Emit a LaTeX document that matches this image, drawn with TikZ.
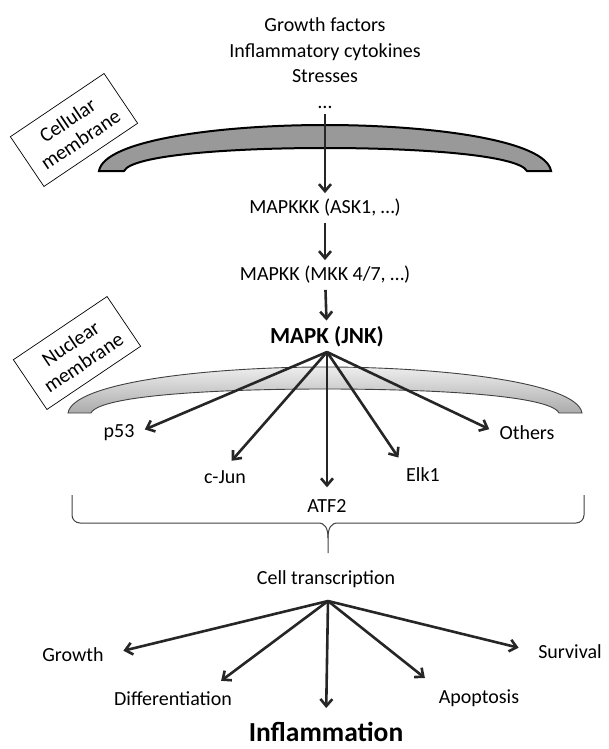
\documentclass[tikz,border=0pt]{standalone}
\usepackage{fontspec}
\setmainfont{Carlito}
\usetikzlibrary{arrows.meta,positioning,calc}
\tikzset{
  txt/.style={
    font = \fontsize{20}{25.5}\selectfont,
    inner sep = 2pt,
    align = center
  },
  bigtxt/.style={
    font = \fontsize{23}{28}\selectfont\bfseries,
    inner sep = 2pt
  },
  hugetxt/.style={
    font = \fontsize{27.5}{32}\selectfont\bfseries,
    inner sep = 1pt
  },
  membox/.style={
    draw,
    line width = 0.7pt,
    rotate = 34,
    minimum width = 113pt,
    minimum height = 60pt,
    inner sep = 0pt,
    align = center,
    font = \fontsize{20.5}{23}\selectfont
  },
  arr/.style={
    line width = 2.6pt,
    draw = black!85,
    -{Straight Barb[length=7pt,width=12pt]}
  },
  cellmem/.style={
    draw,
    line width = 2pt,
    fill = black!40
  },
  nucmem/.style={
    draw = black!75,
    line width = 0.9pt,
    top color = black!7,
    bottom color = black!33
  },
  brace/.style={
    draw = black!75,
    line width = 1pt
  }
}

\begin{document}
\begin{tikzpicture}[x=1pt,y=-1pt]
    \useasboundingbox (0,0) rectangle (608,749);
    % membranes
    \path[cellmem] (99,171) .. controls (104,140) and (220,125) .. (325,125)
        .. controls (430,125) and (546,140) .. (551,171) -- (527,171)
        .. controls (518,155) and (420,148) .. (325,148)
        .. controls (230,148) and (132,155) .. (124,171) -- cycle;
    \path[nucmem] (68,413) .. controls (73,382) and (210,367) .. (325,367)
        .. controls (440,367) and (577,382) .. (582,413) -- (559,413)
        .. controls (550,395) and (430,389) .. (325,389)
        .. controls (220,389) and (100,395) .. (91,413) -- cycle;
    \node[membox] (cellbox) at (74,130) {Cellular\\membrane};
    \node[membox] (nucbox) at (77,353) {Nuclear\\membrane};
    % cascade
    \node[txt] (stimuli) at (325,63) {Growth factors\\Inflammatory cytokines\\Stresses\\…};
    \node[txt] (mapkkk) at (325,208) {MAPKKK (ASK1, …)};
    \node[txt] (mapkk) at (325,275) {MAPKK (MKK 4/7, …)};
    \node[bigtxt] (jnk) at (327,337) {MAPK (JNK)};
    \draw[arr, shorten <=4pt, shorten >=4pt] (stimuli) -- (mapkkk);
    \draw[arr, shorten <=4pt, shorten >=4pt] (mapkkk) -- (mapkk);
    \draw[arr, shorten <=4pt, shorten >=4pt] (mapkk) -- (jnk);
    % targets of JNK
    \coordinate (fan) at (327,352);
    \node[txt] (p53) at (119,433) {p53};
    \node[txt] (cjun) at (225,477) {c-Jun};
    \node[txt] (atf2) at (327,506) {ATF2};
    \node[txt] (elk1) at (423,475) {Elk1};
    \node[txt] (others) at (527,433) {Others};
    \draw[arr, shorten >=9pt] (fan) -- (p53.east);
    \draw[arr, shorten >=10pt] (fan) -- (cjun.north);
    \draw[arr, shorten >=10pt] (fan) -- (atf2.north);
    \draw[arr, shorten >=10pt] (fan) -- (elk1.north west);
    \draw[arr, shorten >=9pt] (fan) -- (others.west);
    % brace
    \draw[brace] (72,495) -- (72,515) to[out=-90,in=180] (80,523) -- (318,523)
        .. controls (325,523) and (328,528) .. (328,538) -- (328,553);
    \draw[brace] (584,495) -- (584,515) to[out=-90,in=0] (576,523) -- (338,523)
        .. controls (331,523) and (328,528) .. (328,538);
    % outcomes
    \node[txt] (transc) at (326,579) {Cell transcription};
    \coordinate (fan2) at (328,601);
    \node[txt] (growth) at (73,655) {Growth};
    \node[txt] (diff) at (173,699) {Differentiation};
    \node[hugetxt] (infl) at (326,732) {Inflammation};
    \node[txt] (apop) at (479,698) {Apoptosis};
    \node[txt] (surv) at (570,652) {Survival};
    \draw[arr, shorten >=18pt] (fan2) -- (growth.east);
    \draw[arr, shorten >=15pt] (fan2) -- ([xshift=-25pt]diff.north east);
    \draw[arr, shorten >=13pt] (fan2) -- (infl.north);
    \draw[arr, shorten >=15pt] (fan2) -- (apop.north west);
    \draw[arr, shorten >=18pt] (fan2) -- (surv.west);
\end{tikzpicture}
\end{document}
